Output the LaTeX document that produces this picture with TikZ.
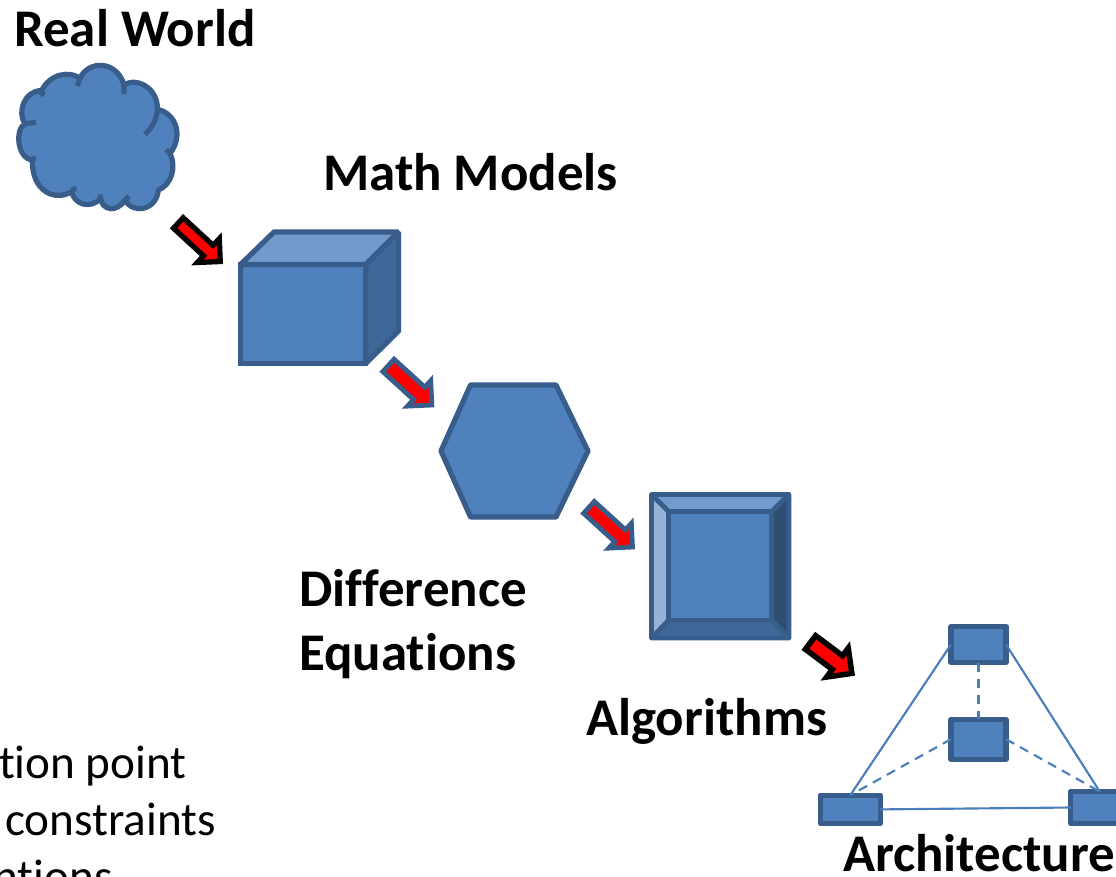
\documentclass[tikz,border=0pt]{standalone}
\usepackage{fontspec}
\setmainfont[Ligatures=NoCommon,Contextuals=NoAlternate]{Carlito}
\definecolor{bluefill}{HTML}{4F81BD}
\definecolor{bluestroke}{HTML}{385D8A}
\definecolor{linkblue}{HTML}{4A7EBB}
\definecolor{lighttop}{HTML}{729ACA}
\definecolor{darkside}{HTML}{3F6797}
\definecolor{bevelleft}{HTML}{95B3D7}
\definecolor{bevelright}{HTML}{2F4D71}
\tikzset{
  shape3d/.style={draw=bluestroke,line width=3.9pt,line join=miter,miter limit=1.6},
  bevelpart/.style={draw=bluestroke,line width=3.5pt,line join=round},
  title/.style={font=\bfseries\fontsize{39.7}{39.7}\selectfont,anchor=base west,inner sep=0pt,text=black},
  bodytext/.style={font=\fontsize{35.4}{35.4}\selectfont,anchor=base east,inner sep=0pt,text=black},
  archbox/.style={draw=bluestroke,fill=bluefill,line width=3.9pt,line join=round,inner sep=0pt,outer sep=0pt,rectangle},
  link/.style={draw=linkblue,line width=1.6pt},
  dashlink/.style={link,dash pattern=on 7pt off 5pt},
}
% tail x, tail y, angle, length, shaft width, head half width, stroke colour, stroke width
\newcommand{\blockarrow}[8]{%
  \begin{scope}[shift={(#1,#2)},rotate=-#3]
    \pgfmathsetmacro{\bodyhalf}{(#5-#8)/2}
    \pgfmathsetmacro{\tipx}{#4-0.707*#8}
    \pgfmathsetmacro{\basex}{#4-#6+0.5*#8}
    \pgfmathsetmacro{\headhalf}{\tipx-\basex}
    \pgfmathsetmacro{\tailx}{0.5*#8}
    \draw[draw=#7,fill=red,line width=#8*0.75pt,line join=miter,miter limit=10]
      (\tailx,-\bodyhalf) -- (\basex,-\bodyhalf) -- (\basex,-\headhalf) -- (\tipx,0)
      -- (\basex,\headhalf) -- (\basex,\bodyhalf) -- (\tailx,\bodyhalf) -- cycle;
  \end{scope}}
\begin{document}
\begin{tikzpicture}[x=0.75pt,y=-0.75pt]
\useasboundingbox (0,0) rectangle (1116,877);
\clip (0,0) rectangle (1116,877);
\fill[white] (0,0) rectangle (1116,877);

% cloud
\begin{scope}[x=0.25pt,y=-0.25pt,shift={(0,150)}]
  \fill[bluefill,draw=bluestroke,line width=3.9pt,line join=round]
    (75,222) .. controls (50,185) and (75,120) .. (125,122)
    .. controls (150,70) and (210,62) .. (240,85)
    .. controls (265,30) and (350,30) .. (372,105)
    .. controls (410,80) and (475,115) .. (472,178)
    .. controls (530,190) and (550,260) .. (510,310)
    .. controls (530,350) and (515,405) .. (475,420)
    .. controls (470,480) and (400,495) .. (375,450)
    .. controls (350,490) and (305,480) .. (302,445)
    .. controls (270,480) and (222,462) .. (215,425)
    .. controls (165,455) and (95,425) .. (97,330)
    .. controls (50,325) and (45,235) .. (75,222) -- cycle;
  \draw[bluestroke,line width=3.9pt]
    (118,122) -- (132,136)
    (240,85) -- (232,108)
    (372,105) -- (372,133)
    (472,170) .. controls (474,205) and (455,235) .. (435,253)
    (510,310) -- (498,299)
    (215,420) -- (229,414)
    (302,445) -- (300,433)
    (375,450) -- (387,439)
    (92,328) -- (108,325)
    (72,222) -- (108,217);
\end{scope}

% cube
\path[fill=bluefill,shape3d] (240.5,264.5) rectangle (365.7,363.5);
\path[fill=lighttop,shape3d] (240.5,264.5) -- (274,232) -- (398.5,232) -- (365.7,264.5) -- cycle;
\path[fill=darkside,shape3d] (365.7,264.5) -- (398.5,232) -- (398.5,331) -- (365.7,363.5) -- cycle;

% hexagon
\path[fill=bluefill,shape3d,line join=round] (441,451) -- (470.5,385) -- (556,385) -- (588,451) -- (556,517) -- (470.5,517) -- cycle;

% bevel
\path[fill=lighttop,bevelpart] (651.5,494.5) -- (789,494.5) -- (771.7,511.7) -- (668.7,511.7) -- cycle;
\path[fill=bevelright,bevelpart] (789,494.5) -- (789,638) -- (771.7,620) -- (771.7,511.7) -- cycle;
\path[fill=darkside,bevelpart] (651.5,638) -- (668.7,620) -- (771.7,620) -- (789,638) -- cycle;
\path[fill=bevelleft,bevelpart] (651.5,494.5) -- (668.7,511.7) -- (668.7,620) -- (651.5,638) -- cycle;
\path[fill=bluefill,bevelpart] (668.7,511.7) rectangle (771.7,620);

% block arrows
\blockarrow{176.4}{221.2}{42.6}{63.3}{19.5}{22.5}{black}{5.2}
\blockarrow{386.7}{363.8}{42.4}{64.5}{21.5}{23}{bluestroke}{4.8}
\blockarrow{587.2}{505.8}{42.3}{64.6}{20.7}{22.5}{bluestroke}{4.8}
\blockarrow{808.3}{640.8}{36.8}{58.3}{22.6}{24.7}{black}{5.5}

% architecture
\node[archbox,minimum width=41.25pt,minimum height=27pt] (top) at (978.5,644.5) {};
\node[archbox,minimum width=41.25pt,minimum height=30pt] (mid) at (978.5,739.2) {};
\node[archbox,minimum width=45pt,minimum height=21.2pt] (lft) at (850.2,809.4) {};
\node[archbox,minimum width=43.4pt,minimum height=24pt] (rgt) at (1099.7,807.5) {};
\draw[link] (top.west) -- (lft.north);
\draw[link] (top.east) -- (rgt.north);
\draw[link] (lft.east) -- (rgt.west);
\draw[dashlink] (top.south) -- (mid.north);
\draw[dashlink] (mid.west) -- (lft.north);
\draw[dashlink] (mid.east) -- (rgt.north);

% labels
\node[title] (realworld) at (14,47) {Real World};
\node[title] (mathmodels) at (323,191) {Math Models};
\node[title] (difference) at (299,606) {Difference};
\node[title] (equations) at (299,670) {Equations};
\node[title] (algorithms) at (586,735) {Algorithms};
\node[title] (architecture) at (843,871) {Architecture};
\node[bodytext] (line1) at (187,778) {tion point};
\node[bodytext] (line2) at (216,835) {constraints};
\node[bodytext] (line3) at (113,892) {ntions};
\end{tikzpicture}
\end{document}
